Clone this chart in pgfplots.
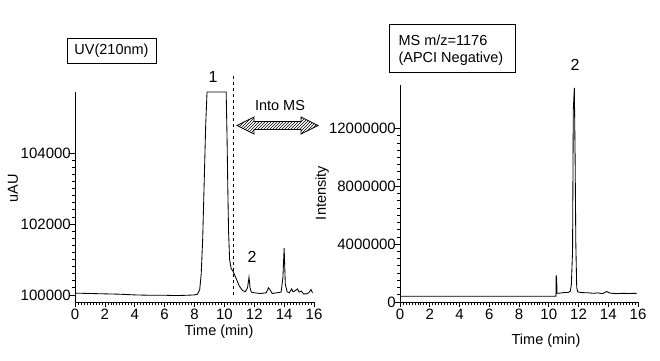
\documentclass[border=0pt]{standalone}
\usepackage{pgfplots}
\pgfplotsset{compat=1.18}
\usepackage{fontspec}
\setmainfont{Liberation Sans}
\usetikzlibrary{patterns}
\begin{document}
\begin{tikzpicture}[x=1pt,y=1pt]
\pgfplotsset{
  chrom/.style={
    scale only axis,
    axis x line=bottom, axis y line=left,
    axis line style={-, line width=0.9pt},
    tick align=outside,
    major tick length=5pt, minor tick length=3pt,
    every tick/.style={black, line width=0.7pt},
    xmin=0, xmax=16,
    xtick={0,2,...,16},
    minor x tick num=9,
    ticklabel style={font=\fontsize{15}{15}\selectfont},
    /pgf/number format/assume math mode=true,
    /pgf/number format/fixed,
    /pgf/number format/1000 sep={},
    scaled y ticks=false,
    xticklabel style={inner sep=1pt, yshift=-1pt},
    yticklabel style={inner sep=0pt, xshift=1pt},
    clip=false,
  }
}
% ---------- UV ----------
\begin{axis}[chrom, at={(75pt,58pt)}, anchor=south west,
  width=239pt, height=210pt,
  ymin=99800, ymax=105720,
  ytick={100000,102000,104000},
  minor y tick num=9]
\addplot[black, line width=0.85pt] coordinates {
(0,100050) (0.5,100045) (1,100040) (1.5,100035) (2,100030) (2.5,100025) (3,100020)
(3.5,100010) (4,100000) (4.5,99995) (5,99990) (5.5,99990) (6,99990) (6.5,99985)
(7,99985) (7.5,99990) (8.0,100000) (8.2,100020) (8.35,100150) (8.45,100600)
(8.55,101600) (8.65,103200) (8.75,104800) (8.84,105720) (10.12,105720)
(10.18,104400) (10.23,103000) (10.28,101800) (10.35,101000) (10.45,100750)
(10.6,100650) (10.8,100450) (11.0,100250) (11.2,100130) (11.4,100090)
(11.55,100200) (11.65,100500) (11.72,100200) (11.8,100080) (12.0,100060)
(12.4,100040) (12.8,100060) (12.95,100200) (13.05,100150) (13.2,100040)
(13.5,100060) (13.8,100080) (13.92,100500) (14.0,101320) (14.08,100300)
(14.2,100090) (14.35,100060) (14.5,100170) (14.6,100090) (14.75,100120)
(14.9,100170) (15.0,100080) (15.15,100110) (15.3,100030) (15.5,100030)
(15.65,100060) (15.8,100150) (15.9,100060)
};
\draw[dashed, line width=0.7pt] (axis cs:10.6,100000) -- (axis cs:10.6,106250);
\end{axis}
% ---------- MS ----------
\begin{axis}[chrom, at={(400pt,58pt)}, anchor=south west,
  width=238pt, height=217pt,
  ymin=0, ymax=15000000,
  ytick={0,4000000,8000000,12000000},
  minor y tick num=7]
\addplot[black, line width=0.85pt] coordinates {
(0,400000) (5,400000) (10.4,400000) (10.48,400000) (10.5,1850000) (10.53,1600000)
(10.56,600000) (10.8,620000) (11.0,650000) (11.3,660000) (11.45,750000)
(11.52,1200000) (11.6,3500000) (11.65,13300000) (11.72,14800000) (11.77,10200000)
(11.82,4000000) (11.88,1000000) (11.95,700000) (12.2,650000) (12.6,640000)
(13.0,600000) (13.3,630000) (13.6,580000) (13.9,720000) (14.1,620000)
(14.5,580000) (15.0,600000) (15.4,590000) (15.9,600000)
};
\end{axis}
% ---------- annotations ----------
\node[font=\fontsize{14.5}{14.5}\selectfont] at (219,28) {Time (min)};
\node[font=\fontsize{14.5}{14.5}\selectfont] at (546,19) {Time (min)};
\node[font=\fontsize{14.5}{14.5}\selectfont, rotate=90] at (13,172) {uAU};
\node[font=\fontsize{14.5}{14.5}\selectfont, rotate=90] at (322,167) {Intensity};
\draw[line width=0.9pt] (67,297) rectangle (156,322);
\node[font=\fontsize{14.5}{14.5}\selectfont] at (111.5,309.5) {UV(210nm)};
\draw[line width=0.9pt] (389,288) rectangle (515,336);
\node[font=\fontsize{14.5}{14.5}\selectfont, anchor=west] at (395,320) {MS m/z=1176};
\node[font=\fontsize{14.5}{14.5}\selectfont, anchor=west] at (395,301) {(APCI Negative)};
\node[font=\fontsize{16}{16}\selectfont] at (213,283) {1};
\node[font=\fontsize{16}{16}\selectfont] at (252,103) {2};
\node[font=\fontsize{16}{16}\selectfont] at (575,295) {2};
\node[font=\fontsize{14.5}{14.5}\selectfont] at (280,254) {Into MS};
\draw[line width=0.8pt, fill=white, pattern=north east lines]
 (237,234.5) -- (254,243) -- (254,238.5) -- (301,238.5) -- (301,243) -- (318,234.5)
 -- (301,226) -- (301,230.5) -- (254,230.5) -- (254,226) -- cycle;
\pgfresetboundingbox
\path[use as bounding box] (0,0) rectangle (660,360);
\end{tikzpicture}
\end{document}
